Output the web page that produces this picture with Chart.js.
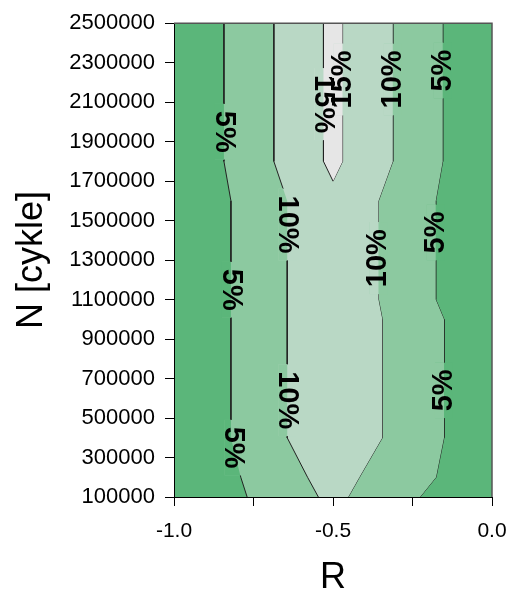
<!DOCTYPE html>
<html>
<head>
<meta charset="utf-8">
<script src="https://cdn.jsdelivr.net/npm/chart.js@4.4.1/dist/chart.umd.min.js"></script>
<style>
  html, body { margin: 0; padding: 0; background: #fff; }
</style>
</head>
<body>
<canvas id="contourChart" width="515" height="590"></canvas>
<script>
// contour lines, as [R, N] pairs from top to bottom
const left5 = [[-0.843, 2500000], [-0.843, 1800000], [-0.821, 1600000], [-0.821, 400000], [-0.79, 200000], [-0.77, 100000]];
const left10 = [[-0.686, 2500000], [-0.686, 1800000], [-0.644, 1600000], [-0.644, 400000], [-0.58, 200000], [-0.546, 100000]];
const left15 = [[-0.53, 2500000], [-0.53, 1800000], [-0.5, 1700000]];
const right15 = [[-0.47, 2500000], [-0.47, 1800000], [-0.5, 1700000]];
const right10 = [[-0.312, 2500000], [-0.312, 1800000], [-0.357, 1600000], [-0.357, 1100000], [-0.345, 1000000], [-0.345, 400000], [-0.417, 200000], [-0.452, 100000]];
const right5 = [[-0.155, 2500000], [-0.155, 1800000], [-0.177, 1600000], [-0.177, 1100000], [-0.151, 1000000], [-0.151, 400000], [-0.176, 200000], [-0.226, 100000]];

const levels = ['5%', '10%', '15%'];

// labels sit on the lines at these N values
const labelLines = ['L5', 'L5', 'L5', 'L10', 'L10', 'L15', 'R15', 'R10', 'R10', 'R5', 'R5', 'R5'];
const labelN = [1950000, 1150000, 350000, 1480000, 590000, 2090000, 2215000, 2215000, 1310000, 2260000, 1440000, 640000];

const yTicks = [100000, 2500000, 200000]; // min, max, step
const xTicks = [-1, 0, 0.25];

const bandColors = ['#5bb67a', '#8cc9a0', '#b9d8c5', '#e6e6e6'];
const lineKeys = ['L15', 'R15', 'L10', 'R10', 'L5', 'R5'];

Chart.defaults.font.family = '"Liberation Sans", Arial, sans-serif';
Chart.defaults.color = '#000';

function contourLine(key, pairs, fillTo, color) {
  return {
    label: key,
    data: pairs.map(([r, n]) => ({ x: r, y: n })),
    borderColor: '#222',
    borderWidth: 1,
    pointRadius: 0,
    tension: 0,
    fill: fillTo === null ? false : fillTo,
    backgroundColor: color || 'rgba(0,0,0,0)',
  };
}

function levelBand(key) {
  return levels.indexOf(key.slice(1) + '%') + 1;
}

const contourPlugin = {
  id: 'contourExtras',
  beforeDraw(chart) {
    const { ctx, chartArea: a } = chart;
    ctx.save();
    ctx.fillStyle = bandColors[0];
    ctx.fillRect(a.left, a.top, a.right - a.left, a.bottom - a.top);
    ctx.restore();
  },
  afterDatasetsDraw(chart) {
    const { ctx, chartArea: a } = chart;
    const yScale = chart.scales.y;
    ctx.save();
    ctx.font = 'bold 29px "Liberation Sans", Arial, sans-serif';
    const spots = labelLines.map((key, i) => {
      const pts = chart.getDatasetMeta(lineKeys.indexOf(key)).data;
      const py = yScale.getPixelForValue(labelN[i]);
      let px = pts[0].x;
      for (let j = 1; j < pts.length; j++) {
        const p0 = pts[j - 1], p1 = pts[j];
        if (py >= p0.y && py <= p1.y) {
          px = p0.x + (py - p0.y) / ((p1.y - p0.y) || 1) * (p1.x - p0.x);
          break;
        }
      }
      const band = levelBand(key);
      const leftSide = key[0] === 'L';
      const text = levels[band - 1];
      const half = ctx.measureText(text).width / 2 + 7;
      // knock the line out behind the label
      ctx.save();
      ctx.beginPath();
      ctx.rect(px - 9, py - half, 18, half * 2);
      ctx.clip();
      ctx.fillStyle = leftSide ? bandColors[band] : bandColors[band - 1];
      ctx.fillRect(px - 9, py - half, 18, half * 2);
      ctx.beginPath();
      ctx.moveTo(a.left, pts[0].y);
      pts.forEach(p => ctx.lineTo(p.x, p.y));
      ctx.lineTo(a.left, pts[pts.length - 1].y);
      ctx.closePath();
      ctx.fillStyle = leftSide ? bandColors[band - 1] : bandColors[band];
      ctx.fill();
      ctx.restore();
      return { px, py, text, leftSide };
    });
    ctx.fillStyle = '#000';
    ctx.textAlign = 'center';
    ctx.textBaseline = 'middle';
    spots.forEach(s => {
      ctx.save();
      ctx.translate(s.px, s.py);
      ctx.rotate(s.leftSide ? Math.PI / 2 : -Math.PI / 2);
      ctx.fillText(s.text, 0, 0);
      ctx.restore();
    });
    ctx.restore();
  },
  afterDraw(chart) {
    const { ctx, chartArea: a } = chart;
    ctx.save();
    ctx.strokeStyle = '#555';
    ctx.lineWidth = 1.5;
    ctx.beginPath();
    ctx.moveTo(a.left, a.top);
    ctx.lineTo(a.right, a.top);
    ctx.lineTo(a.right, a.bottom);
    ctx.stroke();
    ctx.restore();
  },
};

const chart = new Chart(document.getElementById('contourChart'), {
  type: 'line',
  data: {
    datasets: [
      contourLine('L15', left15, 1, bandColors[3]),
      contourLine('R15', right15, null),
      contourLine('L10', left10, 3, bandColors[2]),
      contourLine('R10', right10, null),
      contourLine('L5', left5, 5, bandColors[1]),
      contourLine('R5', right5, null),
    ],
  },
  options: {
    responsive: false,
    animation: false,
    indexAxis: 'y',
    layout: { padding: { top: 20, right: 23, left: 0, bottom: 0 } },
    scales: {
      x: {
        type: 'linear',
        position: 'bottom',
        min: xTicks[0],
        max: xTicks[1],
        afterFit: (scale) => {
          scale.height = 93;
          scale.paddingLeft = 0;
          scale.paddingRight = 0;
        },
        grid: { drawOnChartArea: false, tickLength: 9, color: '#000' },
        border: { color: '#000', width: 1, z: 1 },
        ticks: {
          stepSize: xTicks[2],
          autoSkip: false,
          maxRotation: 0,
          padding: 13,
          font: { size: 21 },
          callback: (v) => (Math.abs(v * 2 - Math.round(v * 2)) < 1e-9 ? v.toFixed(1) : ''),
        },
        title: { display: true, text: 'R', font: { size: 36 }, padding: { top: 0, bottom: -10 } },
      },
      y: {
        type: 'linear',
        min: yTicks[0],
        max: yTicks[1],
        afterFit: (scale) => { scale.width = 174; },
        grid: { drawOnChartArea: false, tickLength: 9, color: '#000' },
        border: { color: '#000', width: 1, z: 1 },
        ticks: {
          stepSize: yTicks[2],
          autoSkip: false,
          padding: 10,
          font: { size: 22 },
          callback: (v) => String(v),
        },
        title: { display: true, text: 'N [cykle]', font: { size: 36 }, padding: { top: 10, bottom: 0 } },
      },
    },
    plugins: {
      legend: { display: false },
      tooltip: { enabled: false },
    },
  },
  plugins: [contourPlugin],
});
</script>
</body>
</html>
